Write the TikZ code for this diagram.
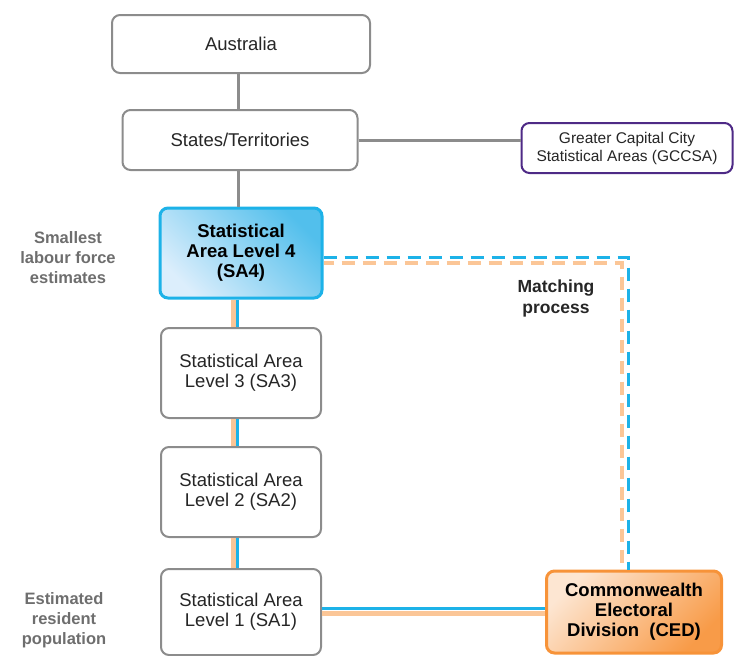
\documentclass[tikz,border=0pt]{standalone}
\usepackage{fontspec}
\setmainfont{Liberation Sans}
\usepackage{tikz}
\usepackage{xcolor}
\usetikzlibrary{positioning}
\definecolor{asgsInk}{HTML}{262626}
\definecolor{asgsGrey}{HTML}{8C8C8C}
\definecolor{asgsLabel}{HTML}{6E6E6E}
\definecolor{asgsBlue}{HTML}{1DB2E8}
\definecolor{asgsBlueLt}{HTML}{DCEEFC}
\definecolor{asgsBlueDk}{HTML}{52BFEC}
\definecolor{asgsOrange}{HTML}{F79339}
\definecolor{asgsOrangeLt}{HTML}{FDE6D2}
\definecolor{asgsOrangeDk}{HTML}{F89B48}
\definecolor{asgsGlow}{HTML}{FBC697}
\definecolor{asgsPurple}{HTML}{4E2A86}
\tikzset{
  box/.style={rounded corners=8pt,draw=asgsGrey,line width=2pt,fill=white,
              align=center,text=asgsInk,inner sep=2pt,
              font=\fontsize{18.5}{20}\selectfont},
  sabox/.style={box,minimum width=160pt,minimum height=90pt},
  keyb/.style={box,draw=asgsBlue,line width=3pt,top color=asgsBlueDk,
               bottom color=asgsBlueLt,shading angle=-45,text=black,
               font=\fontsize{18.5}{20}\selectfont\bfseries},
  cedb/.style={box,draw=asgsOrange,line width=3pt,top color=asgsOrangeLt,
               bottom color=asgsOrangeDk,shading angle=45,text=black,
               font=\fontsize{18.5}{20}\selectfont\bfseries},
  link/.style={draw=asgsGrey,line width=3pt},
  bluelink/.style={draw=asgsBlue,line width=3pt},
  glow/.style={draw=asgsGlow,line width=5pt},
  bluedash/.style={bluelink,dash pattern=on 13pt off 8pt},
  glowdash/.style={glow,line width=4pt,dash pattern=on 13pt off 8pt,dash phase=3pt},
  side/.style={font=\fontsize{16.5}{20}\selectfont\bfseries,text=asgsLabel,align=center},
  lbl/.style={font=\fontsize{17.5}{21}\selectfont\bfseries,text=asgsInk,align=center},
}
\begin{document}
\begin{tikzpicture}[x=1pt,y=-1pt]
  \useasboundingbox (0,0) rectangle (737,656);
    \node[box,minimum width=258pt,minimum height=58pt] at (241,44) (aus) {Australia};
    \node[box,minimum width=235pt,minimum height=60pt] at (240,140) (ste) {States/Territories};
    \node[box,draw=asgsPurple,font=\fontsize{15.5}{18}\selectfont,
          minimum width=211pt,minimum height=50pt] at (627,148) (gcc)
        {Greater Capital City\\ Statistical Areas (GCCSA)};
    \node[keyb,minimum width=162pt,minimum height=90pt] at (241,253) (sa4)
        {Statistical\\ Area Level 4\\ (SA4)};
    \node[sabox] at (241,373) (sa3) {Statistical Area\\ Level 3 (SA3)};
    \node[sabox] at (241,492) (sa2) {Statistical Area\\ Level 2 (SA2)};
    \node[sabox,minimum height=86pt] at (241,612) (sa1) {Statistical Area\\ Level 1 (SA1)};
    \node[cedb,minimum width=175pt,minimum height=82pt] at (634,612) (ced)
        {Commonwealth\\ Electoral\\ Division~ (CED)};

    \node[side] at (68,258) (lfs) {Smallest\\ labour force\\ estimates};
    \node[side] at (64,620) (erp) {Estimated\\ resident\\ population};
    \node[lbl] at (556,298) (mat) {Matching\\ process};

    \draw[link] ([xshift=-3pt]aus.south) -- ([xshift=-2pt]ste.north);
    \draw[link] ([xshift=-2pt]ste.south) -- ([xshift=-3pt]sa4.north);
    \draw[link] (ste.east) -- (ste.east -| gcc.west);

    \draw[glow] ([xshift=-8pt]sa4.south) -- ([xshift=-8pt]sa3.north);
    \draw[bluelink] ([xshift=-4pt]sa4.south) -- ([xshift=-4pt]sa3.north);
    \draw[glow] ([xshift=-8pt]sa3.south) -- ([xshift=-8pt]sa2.north);
    \draw[bluelink] ([xshift=-4pt]sa3.south) -- ([xshift=-4pt]sa2.north);
    \draw[glow] ([xshift=-8pt]sa2.south) -- ([xshift=-8pt]sa1.north);
    \draw[bluelink] ([xshift=-4pt]sa2.south) -- ([xshift=-4pt]sa1.north);

    \draw[glow] ([yshift=-1pt]sa1.east) -- ([yshift=-1pt]ced.west);
    \draw[bluelink] ([yshift=4pt]sa1.east) -- ([yshift=4pt]ced.west);

    \draw[glowdash] ([yshift=-10pt]sa4.east) -| ([xshift=-12pt]ced.north);
    \draw[bluedash] ([yshift=-4pt]sa4.east) -| ([xshift=-6pt]ced.north);
  \end{tikzpicture}
\end{document}
